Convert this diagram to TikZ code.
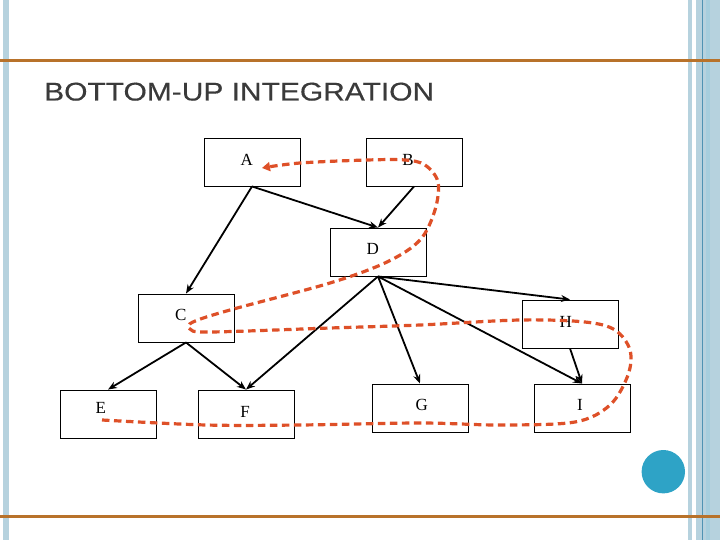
\documentclass[tikz,border=0pt]{standalone}
\usepackage{fontspec}
\setmainfont{Liberation Serif}
\newfontfamily\titlefont[FakeStretch=1.17,FakeBold=0.4]{Liberation Sans}
\usetikzlibrary{arrows.meta}
\definecolor{barblue}{HTML}{B6D2DE}
\definecolor{barblue2}{HTML}{A6CEDD}
\definecolor{darkblue}{HTML}{4F93B3}
\definecolor{rule}{HTML}{B8722A}
\definecolor{dot}{HTML}{2EA3C6}
\definecolor{trace}{HTML}{DE5028}
\definecolor{titlegray}{HTML}{3A3A3A}
\tikzset{
  box/.style={draw=black, line width=0.9pt, minimum width=96pt, minimum height=48pt, inner sep=0pt},
  lbl/.style={inner sep=0pt, font=\fontsize{17}{17}\selectfont},
  call/.style={draw=black, line width=1.8pt, -{Stealth[length=9pt,width=7pt]}},
  order/.style={draw=trace, line width=3.2pt, dash pattern=on 7.5pt off 4.5pt, -{Triangle[length=8pt,width=9pt]}}
}
\begin{document}
\begin{tikzpicture}[x=1pt,y=-1pt]
\useasboundingbox (0,0) rectangle (720,540);
% decorative frame
\fill[barblue] (3,0) rectangle (8.5,540);
\fill[barblue] (688,0) rectangle (692,540);
\fill[barblue] (696,0) rectangle (720,540);
\fill[barblue2] (706,0) rectangle (710,540);
\draw[darkblue, line width=1pt] (702.5,0) -- (702.5,540);
\draw[rule, line width=3pt] (0,60.5) -- (720,60.5);
\draw[rule, line width=3pt] (0,516.5) -- (720,516.5);
\fill[dot] (663.3,471.7) circle (21.7);
% title
\node[anchor=base west, inner sep=0pt, text=titlegray, font=\titlefont\fontsize{25.6}{26}\selectfont] (title) at (44,100.5) {BOTTOM-UP INTEGRATION};
% boxes
\node[box] (A) at (252,162) {};
\node[box] (B) at (414,162) {};
\node[box] (D) at (378,252) {};
\node[box] (C) at (186,318) {};
\node[box] (E) at (108,414) {};
\node[box] (F) at (246,414) {};
\node[box] (G) at (420,408) {};
\node[box] (H) at (570,324) {};
\node[box] (I) at (582,408) {};
% labels
\node[lbl] (lA) at (246.7,160) {A};
\node[lbl] (lB) at (408,160) {B};
\node[lbl] (lD) at (372.7,249) {D};
\node[lbl] (lC) at (180.7,315) {C};
\node[lbl] (lE) at (100.7,408.3) {E};
\node[lbl] (lF) at (245,411.7) {F};
\node[lbl] (lG) at (421.7,405) {G};
\node[lbl] (lH) at (565.7,321.7) {H};
\node[lbl] (lI) at (580,405) {I};
% calls
\draw[call] (A.south) -- (D.north);
\draw[call] (A.south) -- (C.north);
\draw[call] (B.south) -- (D.north);
\draw[call] (D.south) -- (H.north);
\draw[call] (D.south) -- (F.north);
\draw[call] (D.south) -- (G.north);
\draw[call] (D.south) -- (I.north);
\draw[call] (H.south) -- (I.north);
\draw[call] (C.south) -- (E.north);
\draw[call] (C.south) -- (F.north);
% integration order
\coordinate (start) at (102,420);
\coordinate (finish) at (262,168);
\draw[order] plot[smooth, tension=0.55] coordinates {
 (102,420) (206,425) (300,425) (420,423) (500,425) (575,422) (610,405) (628,375)
 (630,350) (615,330) (585,322) (520,320) (420,325) (330,328) (210,332) (190,329)
 (193,322) (230,310) (330,283) (387,262) (420,240) (435,210) (438,182) (425,165)
 (405,160) (367,160) (300,163) (262,168)};
\end{tikzpicture}
\end{document}
